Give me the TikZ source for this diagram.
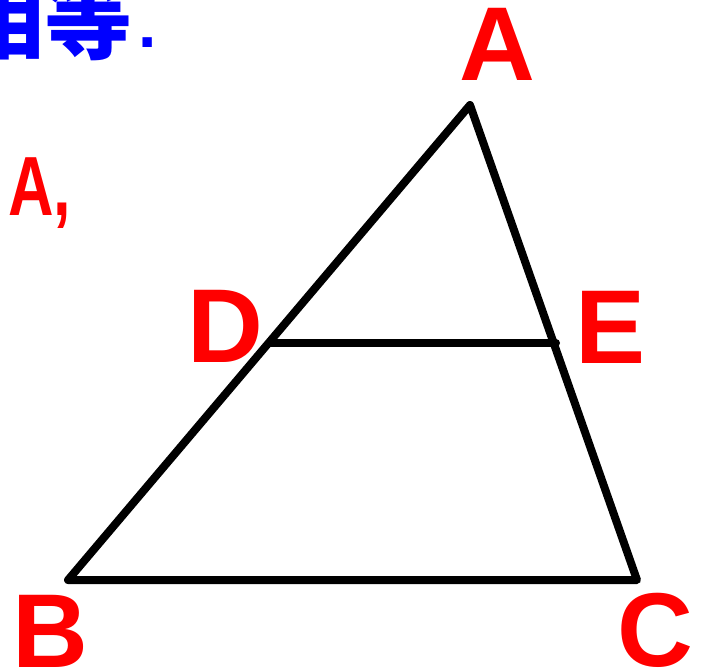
\documentclass[tikz,border=0pt]{standalone}
\usepackage{fontspec}
\setmainfont{Liberation Sans}
\newfontfamily\cjkfont{Noto Sans CJK SC}
\begin{document}
\begin{tikzpicture}[x=1pt,y=-1pt,
  lbl/.style={text=red,font=\fontsize{105}{105}\selectfont\bfseries,inner sep=0pt,anchor=base},
  edge/.style={line width=8pt,line join=round,line cap=round,draw=black}]
\useasboundingbox (0,0) rectangle (704,670);
\clip (0,0) rectangle (704,670);
\node[anchor=base west,inner sep=0pt,text={rgb,255:red,0;green,0;blue,255},font=\fontsize{88}{88}\selectfont\cjkfont\bfseries] (top) at (-44,52) {相等\hspace{6pt}\raisebox{5pt}{\fontsize{66}{66}\selectfont\rmfamily\bfseries.}};
\node[anchor=base west,inner sep=0pt,text=red,font=\fontsize{84}{84}\selectfont\bfseries,xscale=0.75] (ta) at (8,215) {A,};
\coordinate (A) at (470,105);
\coordinate (B) at (68,580);
\coordinate (C) at (637,580);
\coordinate (D) at (271,343);
\coordinate (E) at (556,343);
\draw[edge] (A) -- (B) -- (C) -- cycle;
\draw[edge] (D) -- (E);
\node[lbl] (la) at (497,80) {A};
\node[lbl] (ld) at (225,362) {D};
\node[lbl] (le) at (611,363) {E};
\node[lbl] (lb) at (50,667) {B};
\node[lbl] (lc) at (655,666) {C};
\end{tikzpicture}
\end{document}
